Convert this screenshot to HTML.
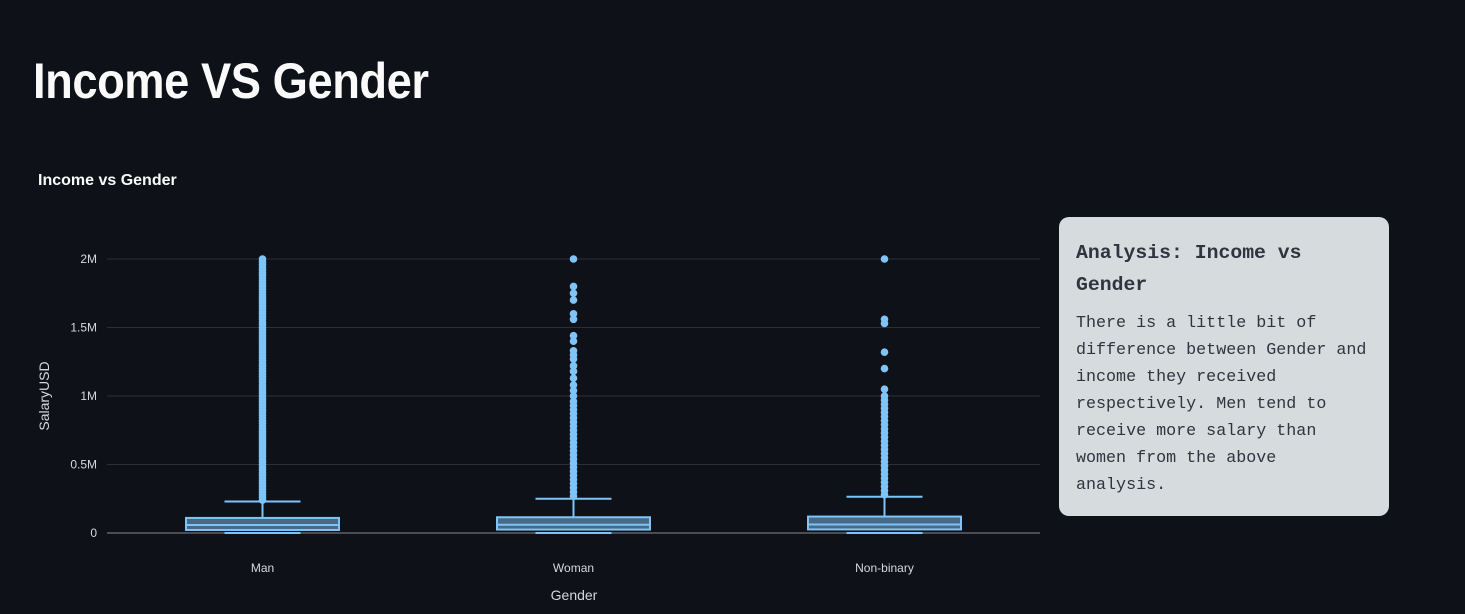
<!DOCTYPE html>
<html><head><meta charset="utf-8"><style>
body{margin:0;width:1465px;height:614px;background:#0e1117;overflow:hidden;font-family:"Liberation Sans",sans-serif;color:#fafafa;position:relative}
h1{position:absolute;left:33px;top:52px;margin:0;font-size:50px;font-weight:700;letter-spacing:-0.5px;transform:scaleX(0.906);transform-origin:left top}
.ct{position:absolute;left:38px;top:172px;font-size:16px;font-weight:700}
.card{position:absolute;left:1059px;top:217px;width:330px;height:299px;background:#d6dbde;border-radius:10px;color:#31333f;font-family:"Liberation Mono",monospace}
.card h3{margin:0;position:absolute;left:17px;top:20px;font-size:19.8px;line-height:32px;font-weight:700;width:300px}
.card p{margin:0;position:absolute;left:17px;top:93px;font-size:16.7px;line-height:27px;width:298px}
svg{position:absolute;left:0;top:0}
</style></head><body>
<h1>Income VS Gender</h1>
<div class="ct">Income vs Gender</div>
<svg id="chart" width="1050" height="614"></svg>
<div class="card">
<h3>Analysis: Income vs Gender</h3>
<p>There is a little bit of difference between Gender and income they received respectively. Men tend to receive more salary than women from the above analysis.</p>
</div>
<script>
const categories=["Man","Woman","Non-binary"];
const mins=[0,0,0];
const q1s=[22000,25000,26000];
const medians=[58000,60000,62000];
const q3s=[110000,115000,120000];
const fences=[230000,250000,265000];
const yTicks=[0,500000,1000000,1500000,2000000];
const yTickLabels=["0","0.5M","1M","1.5M","2M"];
const outMan=[240000,260000,280000,300000,320000,340000,360000,380000,400000,420000,440000,460000,480000,500000,520000,540000,560000,580000,600000,620000,640000,660000,680000,700000,720000,740000,760000,780000,800000,820000,840000,860000,880000,900000,920000,940000,960000,980000,1000000,1020000,1040000,1060000,1080000,1100000,1120000,1140000,1160000,1180000,1200000,1220000,1240000,1260000,1280000,1300000,1320000,1340000,1360000,1380000,1400000,1420000,1440000,1460000,1480000,1500000,1520000,1540000,1560000,1580000,1600000,1620000,1640000,1660000,1680000,1700000,1720000,1740000,1760000,1780000,1800000,1820000,1840000,1860000,1880000,1900000,1920000,1940000,1960000,1980000,2000000];
const outWoman=[270000,300000,330000,360000,390000,420000,450000,480000,510000,540000,570000,600000,630000,660000,690000,720000,750000,780000,810000,840000,870000,900000,930000,960000,1000000,1040000,1080000,1130000,1180000,1220000,1270000,1300000,1330000,1400000,1440000,1560000,1600000,1700000,1750000,1800000,2000000];
const outNB=[280000,310000,340000,370000,400000,430000,460000,490000,520000,550000,580000,610000,640000,670000,700000,730000,760000,790000,820000,850000,880000,910000,940000,970000,1000000,1050000,1200000,1320000,1530000,1560000,2000000];
const outliers=[outMan,outWoman,outNB];

const svg=document.getElementById('chart');const NS='http://www.w3.org/2000/svg';
const x0=107,x1=1040,y0=533,yPer=137/1e6;
const y=v=>y0-v*yPer;
const xc=i=>x0+(x1-x0)*(i+0.5)/categories.length;
function mk(t,a,p){const e=document.createElementNS(NS,t);for(const k in a)e.setAttribute(k,a[k]);(p||svg).appendChild(e);return e;}
yTicks.forEach((t,i)=>{
 const l=mk('line',{x1:x0,x2:x1,y1:y(t),y2:y(t),stroke:t===0?'#4a4d55':'#2c2f37','stroke-width':t===0?2:1});
 
 
 const tx=mk('text',{x:97,y:y(t)+4,'text-anchor':'end','font-size':12,fill:'#d8d8dc'});
 tx.textContent=yTickLabels[i];
 
 
});
const bw=153,ww=76;
categories.forEach((c,i)=>{
 const cx=xc(i);
 const g=mk('g',{});
 
 
 mk('line',{x1:cx,x2:cx,y1:y(q3s[i]),y2:y(fences[i]),stroke:'#7fc4f8','stroke-width':2},g);
 mk('line',{x1:cx-ww/2,x2:cx+ww/2,y1:y(fences[i]),y2:y(fences[i]),stroke:'#7fc4f8','stroke-width':2},g);
 mk('line',{x1:cx-ww/2,x2:cx+ww/2,y1:y(mins[i]),y2:y(mins[i]),stroke:'#7fc4f8','stroke-width':2},g);
 mk('rect',{x:cx-bw/2,y:y(q3s[i]),width:bw,height:y(q1s[i])-y(q3s[i]),fill:'rgba(127,196,248,0.5)',stroke:'#7fc4f8','stroke-width':2},g);
 mk('line',{x1:cx-bw/2,x2:cx+bw/2,y1:y(medians[i]),y2:y(medians[i]),stroke:'#7fc4f8','stroke-width':2},g);
 outliers[i].forEach(v=>{
  const p=mk('circle',{cx:cx,cy:y(v),r:3.8,fill:'#7fc4f8'},g);
  
  
 });
 const tx=mk('text',{x:cx,y:572,'text-anchor':'middle','font-size':12,fill:'#d8d8dc'});
 tx.textContent=c;
 
 
});
const xt=mk('text',{x:574,y:600,'text-anchor':'middle','font-size':14,fill:'#d8d8dc'});xt.textContent='Gender';


const yt=mk('text',{x:49,y:396,'text-anchor':'middle','font-size':14,fill:'#d8d8dc',transform:'rotate(-90 49 396)'});yt.textContent='SalaryUSD';


</script>
</body></html>
